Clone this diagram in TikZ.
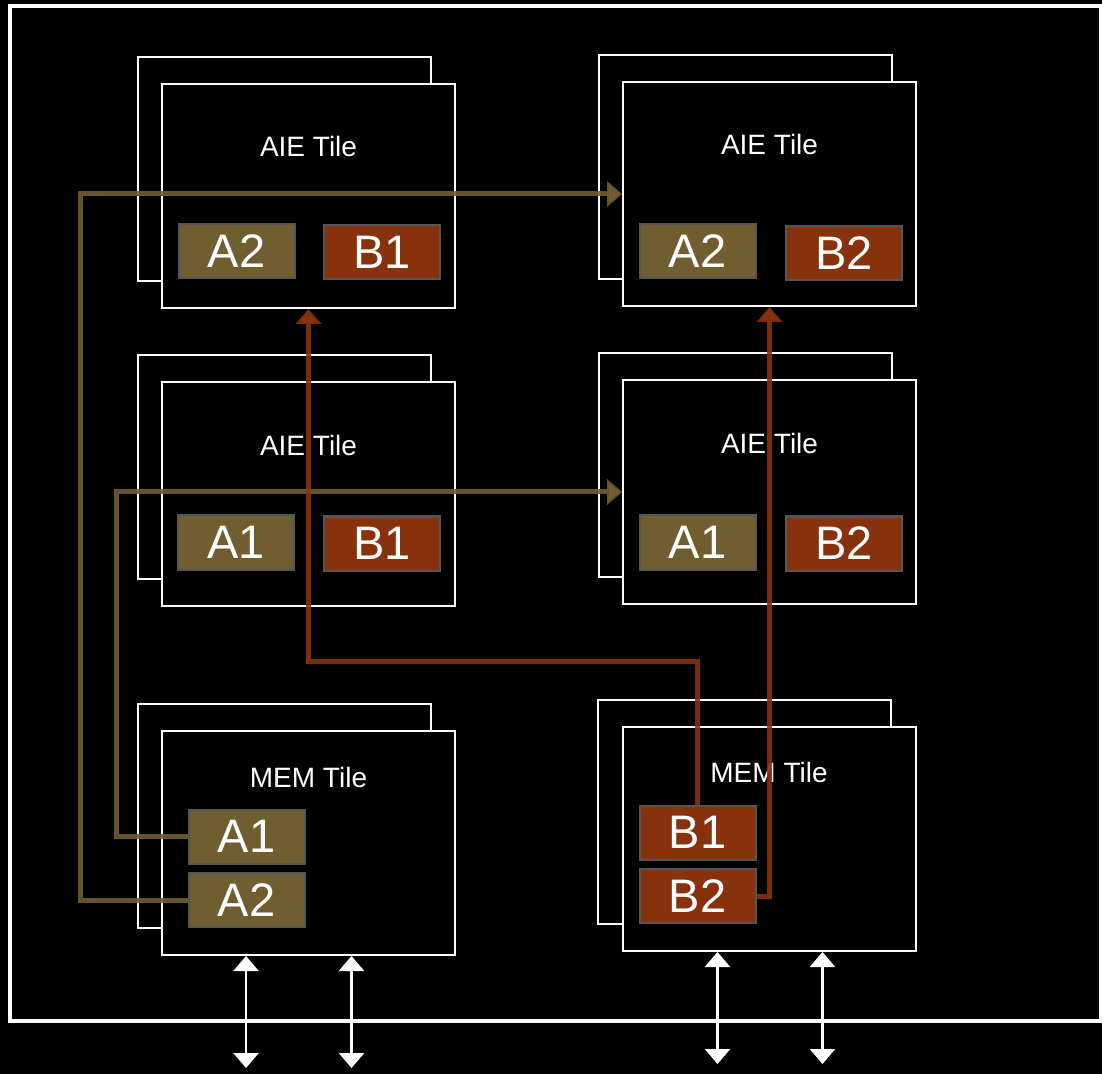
\documentclass[tikz,border=0pt]{standalone}
\usepackage{fontspec}
\setmainfont{Liberation Sans}
\usetikzlibrary{arrows.meta}
\definecolor{aolive}{RGB}{112,94,48}
\definecolor{bbrown}{RGB}{135,50,12}
\definecolor{bufedge}{RGB}{85,85,85}
\begin{document}
\begin{tikzpicture}[x=0.5pt, y=-0.5pt, >={Triangle[width=12.5pt,length=7.5pt]},
    tile/.style={draw=white, line width=1pt, fill=black, minimum width=146.5pt, minimum height=112pt, inner sep=0pt},
    title/.style={text=white, font=\fontsize{14}{16}\selectfont},
    buf/.style={draw=bufedge, line width=1pt, text=white, minimum width=58pt, minimum height=27pt, inner sep=0pt, font=\fontsize{23.5}{26}\selectfont},
    abuf/.style={buf, fill=aolive},
    bbuf/.style={buf, fill=bbrown},
    awire/.style={draw=aolive, line width=2.5pt, draw opacity=0.9, ->},
    bwire/.style={draw=bbrown, line width=2.5pt, draw opacity=0.9, ->},
    io/.style={draw=white, line width=1.2pt, <->}]
    \fill[black] (0,0) rectangle (1102,1074);
    \useasboundingbox (0,0) rectangle (1102,1074);
    \draw[white, line width=2pt] (10,6) rectangle (1101,1021);
    % tiles: a second sheet behind each one
    \foreach \name/\x/\y/\lbl/\ty in {aieTL/308.5/196/AIE Tile/146, aieTR/769.5/194/AIE Tile/144,
        aieML/308.5/494/AIE Tile/445, aieMR/769.5/492/AIE Tile/443,
        memL/308.5/843/MEM Tile/777, memR/769/839/MEM Tile/772} {
        \node[tile] (\name back) at (\x-24.5,\y-27) {};
        \node[tile] (\name) at (\x,\y) {};
        \node[title] (\name title) at (\x,\ty) {\lbl};
    }
    % buffers
    \node[abuf] (aieTLa) at (236.5,251) {A2};
    \node[bbuf] (aieTLb) at (382,252.5) {B1};
    \node[abuf] (aieTRa) at (697.5,251.5) {A2};
    \node[bbuf] (aieTRb) at (844,253.5) {B2};
    \node[abuf] (aieMLa) at (236,542.5) {A1};
    \node[bbuf] (aieMLb) at (382,543.5) {B1};
    \node[abuf] (aieMRa) at (697.5,542.5) {A1};
    \node[bbuf] (aieMRb) at (844,543.5) {B2};
    \node[abuf] (memLa1) at (246.5,836.5) {A1};
    \node[abuf] (memLa2) at (246.5,900) {A2};
    \node[bbuf] (memRb1) at (697.5,832.5) {B1};
    \node[bbuf] (memRb2) at (697.5,896) {B2};
    % links between the tiles
    \draw[awire] (memLa2.west) -- ++(-107,0) |- (aieTR.west);
    \draw[awire] (memLa1.west) -- ++(-71,0) |- (aieMR.west);
    \draw[bwire] (memRb1.north) -- ++(0,-143) -| (aieTL.south);
    \draw[bwire] (memRb2.east) -| (aieTR.south);
    % streams in and out
    \foreach \t/\x/\y in {memL/246/1068, memL/351.5/1068, memR/717.5/1064, memR/822.5/1064} {
        \coordinate (iob) at (\x,\y);
        \draw[io] (iob |- \t.south) -- (iob);
    }
\end{tikzpicture}
\end{document}
